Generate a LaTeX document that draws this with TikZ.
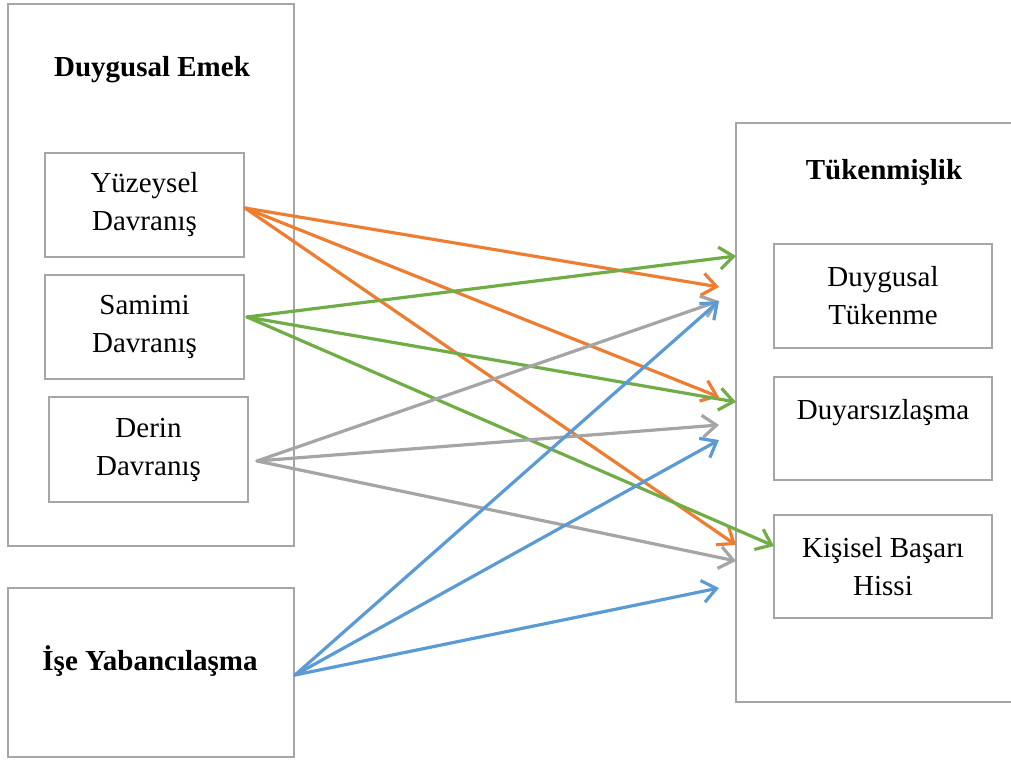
\documentclass[tikz,border=0pt]{standalone}
\usepackage{fontspec}
\setmainfont{Liberation Serif}
\usetikzlibrary{arrows.meta}
\definecolor{kutugri}{RGB}{166,166,166}
\definecolor{okturuncu}{RGB}{237,125,49}
\definecolor{okyesil}{RGB}{112,173,71}
\definecolor{okgri}{RGB}{165,165,165}
\definecolor{okmavi}{RGB}{91,155,213}
\tikzset{
  grp/.style   = {rectangle, draw=kutugri, line width=2.4pt, fill=white, inner sep=0pt},
  blk/.style   = {rectangle, draw=kutugri, line width=2.4pt, fill=white, align=center,
                  inner sep=0pt, font=\fontsize{29}{38}\selectfont},
  ttl/.style   = {font=\fontsize{29}{34}\selectfont\bfseries, inner sep=0pt},
  fl/.style    = {-{Straight Barb[length=14pt,width=22pt]}, line width=3.2pt,
                  line cap=round, line join=round},
}

\begin{document}
\begin{tikzpicture}[x=1pt,y=-1pt]
  \useasboundingbox (0,0) rectangle (1011,762);

  % ana kutular
  \node[grp, minimum width=286pt, minimum height=542pt] (emek) at (151,275) {};
  \node[grp, minimum width=304pt, minimum height=579pt] (tuk)  at (888,412.5) {};
  \node[grp, minimum width=286pt, minimum height=169pt] (ise)  at (151,672.5) {};

  \node[ttl] (emekT) at (152,70) {Duygusal Emek};
  \node[ttl] (tukT)  at (884,172) {Tükenmişlik};
  \node[ttl] (iseT)  at (150,661) {İşe Yabancılaşma};

  % alt boyutlar
  \node[blk, minimum width=199pt, minimum height=104pt] (yuz) at (144.5,205)   {Yüzeysel\\Davranış};
  \node[blk, minimum width=199pt, minimum height=104pt] (sam) at (144.5,327)   {Samimi\\Davranış};
  \node[blk, minimum width=199pt, minimum height=105pt] (der) at (148.5,449.5) {Derin\\Davranış};

  \node[blk, minimum width=218pt, minimum height=104pt] (dt) at (883,296)   {Duygusal\\Tükenme};
  \node[blk, minimum width=218pt, minimum height=103pt] (dy) at (883,428.5) {Duyarsızlaşma\\\mbox{}};
  \node[blk, minimum width=218pt, minimum height=103pt] (kb) at (883,566.5) {Kişisel Başarı\\Hissi};

  % ok uclari
  \coordinate (yuzO) at (245,208);
  \coordinate (samO) at (247,317);
  \coordinate (derO) at (257,461);
  \coordinate (iseO) at (295,675);

  \coordinate (dtA) at (719,287);
  \coordinate (dyA) at (719,397);
  \coordinate (kbA) at (736,545);
  \coordinate (dtB) at (736,256);
  \coordinate (dyB) at (736,402);
  \coordinate (kbB) at (774,546);
  \coordinate (dtC) at (719,301);
  \coordinate (dyC) at (719,425);
  \coordinate (kbC) at (736,561);
  \coordinate (dyD) at (719,440);
  \coordinate (kbD) at (719,588);

  \draw[fl, okturuncu] (yuzO) -- (dtA);
  \draw[fl, okturuncu] (yuzO) -- (dyA);
  \draw[fl, okturuncu] (yuzO) -- (kbA);

  \draw[fl, okyesil] (samO) -- (dtB);
  \draw[fl, okyesil] (samO) -- (dyB);
  \draw[fl, okyesil] (samO) -- (kbB);

  \draw[fl, okgri] (derO) -- (dtC);
  \draw[fl, okgri] (derO) -- (dyC);
  \draw[fl, okgri] (derO) -- (kbC);

  \draw[fl, okmavi] (iseO) -- (dtC);
  \draw[fl, okmavi] (iseO) -- (dyD);
  \draw[fl, okmavi] (iseO) -- (kbD);

\end{tikzpicture}
\end{document}
